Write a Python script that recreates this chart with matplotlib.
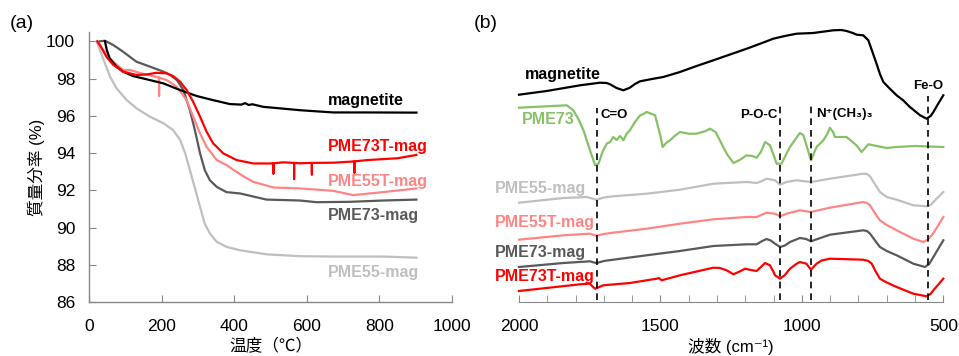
import matplotlib
matplotlib.use("Agg")
import matplotlib.pyplot as plt
import numpy as np

plt.rcParams['font.family'] = ['Liberation Sans', 'Noto Sans CJK JP', 'DejaVu Sans']

# ---------------- (a) TGA data ----------------
tga_magnetite_T = [44, 49, 57, 76, 94, 122, 159, 205, 251, 297, 342, 388, 420, 430, 440, 450, 480, 526, 581, 673,
                   765, 902]
tga_magnetite_m = [100.0, 99.53, 99.08, 98.64, 98.37, 98.13, 97.96, 97.74, 97.38, 97.06, 96.84, 96.63, 96.6, 96.68,
                   96.58, 96.62, 96.48, 96.4, 96.3, 96.18, 96.18, 96.17]

tga_pme73t_T = [23, 30, 48, 67, 94, 131, 159, 186, 214, 232, 251, 269, 287, 306, 324, 342, 370, 407, 453, 498, 508,
                508, 508, 535, 565, 565, 565, 581, 614, 614, 614, 673, 731, 731, 731, 765, 850, 902]
tga_pme73t_m = [100, 99.8, 99.17, 98.73, 98.37, 98.19, 98.22, 98.31, 98.28, 98.13, 97.83, 97.38, 96.75, 95.95, 95.14,
                94.52, 93.98, 93.62, 93.44, 93.44, 93.45, 92.9, 93.45, 93.5, 93.47, 92.6, 93.47, 93.45, 93.47, 92.85,
                93.47, 93.48, 93.55, 92.95, 93.55, 93.62, 93.72, 93.9]

tga_pme55t_T = [23, 39, 67, 94, 113, 140, 177, 193, 193, 193, 214, 242, 269, 287, 306, 324, 352, 379, 398, 425, 453,
                508, 581, 673, 728, 810, 902]
tga_pme55t_m = [100, 99.53, 98.9, 98.46, 98.46, 98.3, 98.13, 98.05, 97.06, 98.05, 97.92, 97.56, 96.84, 95.95, 95.05,
                94.33, 93.62, 93.35, 93.1, 92.75, 92.45, 92.15, 92.1, 91.97, 91.74, 91.9, 92.1]

tga_pme73_T = [30, 44, 67, 94, 131, 168, 205, 223, 242, 260, 278, 292, 306, 319, 333, 352, 379, 416, 489, 581, 627,
               719, 810, 902]
tga_pme73_m = [100.0, 100.03, 99.8, 99.44, 98.9, 98.64, 98.37, 98.2, 97.92, 97.38, 96.3, 95.2, 93.98, 93.08, 92.54,
               92.18, 91.9, 91.83, 91.5, 91.45, 91.36, 91.38, 91.45, 91.5]

tga_pme55_T = [21, 30, 44, 58, 76, 104, 131, 168, 205, 232, 251, 265, 278, 292, 306, 319, 333, 352, 379, 416, 489,
               581, 673, 810, 902]
tga_pme55_m = [99.98, 99.53, 98.82, 98.1, 97.47, 96.84, 96.4, 95.95, 95.6, 95.23, 94.7, 93.98, 93.08, 92.1, 91.1,
               90.2, 89.68, 89.23, 88.96, 88.78, 88.56, 88.46, 88.44, 88.44, 88.38]

# ---------------- (b) FT-IR data (offset, a.u.) ----------------
ir_mag_wn = [2000, 1902, 1784, 1714, 1690, 1678, 1655, 1631, 1608, 1590, 1572, 1530, 1490, 1431, 1372, 1313, 1254,
             1195, 1150, 1101, 1060, 1019, 960, 920, 889, 860, 842, 820, 806, 783, 765, 748, 736, 724, 712, 688, 665,
             642, 618, 582, 559, 545, 535, 518, 500]
ir_mag_v = [207.3, 211, 216.7, 219.3, 219, 217.7, 214, 211.7, 214.3, 218, 220.7, 223, 225, 230, 236, 241.7, 247.5,
            253.3, 258, 263.3, 266, 268.3, 269, 270.5, 271.7, 272, 271, 269, 267.3, 266.7, 261.7, 248, 238.3, 228,
            220, 213, 206.7, 201.7, 195, 186.7, 183.3, 186, 190, 198.3, 206.7]

ir_pme73_wn = [2000, 1902, 1831, 1808, 1790, 1772, 1749, 1731, 1719, 1705, 1690, 1678, 1667, 1655, 1643, 1631, 1620,
               1608, 1590, 1572, 1560, 1549, 1530, 1519, 1502, 1492, 1480, 1466, 1450, 1431, 1400, 1372, 1340, 1325,
               1305, 1290, 1265, 1242, 1220, 1195, 1175, 1160, 1145, 1130, 1113, 1100, 1089, 1072, 1055, 1042, 1020,
               1007, 995, 989, 968, 948, 924, 910, 901, 890, 883, 842, 807, 789, 765, 700, 665, 600, 500]
ir_pme73_v = [194.3, 195.7, 196.7, 191.7, 183, 171.7, 151.7, 136.7, 138.3, 150, 158.3, 160, 165, 162, 166, 161.7, 168,
              171.7, 180, 186.7, 188, 190, 188, 186.7, 168.3, 155, 159, 161.7, 166, 170, 168.3, 168.3, 171, 173.3,
              170, 161.7, 148, 139, 142, 146.7, 146, 144.3, 150, 160, 156.7, 147, 138.3, 138.3, 148, 155, 164, 169,
              167, 161.7, 141.7, 155, 161.7, 168, 174.3, 170, 165, 165, 156.7, 150, 157.7, 154, 155, 156, 155]

ir_pme55_wn = [2000, 1843, 1761, 1735, 1725, 1700, 1667, 1549, 1431, 1313, 1195, 1160, 1140, 1125, 1095, 1077, 1054,
               1019, 968, 901, 783, 770, 759, 740, 724, 700, 665, 606, 559, 545, 535, 500]
ir_pme55_v = [99.3, 104, 105, 103, 102.3, 104.5, 105.7, 108.3, 112.3, 118.3, 120, 119, 121, 123.3, 121.7, 117.3, 120,
              121.7, 120, 123.3, 128.3, 128, 125.7, 117, 110, 105, 102.3, 96.7, 95.7, 97, 100, 110]

ir_pme55t_wn = [2000, 1843, 1749, 1735, 1725, 1700, 1667, 1549, 1431, 1313, 1195, 1160, 1140, 1125, 1095, 1077, 1054,
                1007, 968, 901, 783, 770, 759, 740, 724, 700, 665, 606, 571, 555, 540, 525, 500]
ir_pme55t_v = [62.3, 66.7, 68.3, 67, 66.3, 68, 69.3, 73.3, 78.3, 82.7, 85, 85, 87.5, 89.3, 88.3, 85.7, 88.3, 91.7, 90,
               94.3, 100, 99, 96.7, 88, 81.7, 77, 71.7, 63.3, 60, 62.3, 67, 73.3, 85]

ir_pme73m_wn = [2000, 1843, 1749, 1735, 1725, 1700, 1667, 1549, 1431, 1313, 1195, 1160, 1140, 1125, 1110, 1095, 1077,
                1060, 1042, 1007, 985, 968, 901, 783, 770, 759, 740, 724, 700, 665, 606, 565, 550, 535, 500]
ir_pme73m_v = [35, 39, 40.7, 39.5, 39, 41, 42.3, 46.7, 51, 56, 57.7, 57.7, 61, 63, 61.5, 58.3, 55, 56.5, 60, 64, 63,
               60.7, 67.3, 71.7, 71, 68.3, 61, 55, 51, 46.7, 38.3, 35, 38, 45, 61.7]

ir_pme73t_wn = [2000, 1784, 1749, 1740, 1731, 1702, 1608, 1513, 1505, 1496, 1431, 1313, 1290, 1266, 1242, 1220, 1201,
                1180, 1160, 1145, 1130, 1113, 1100, 1095, 1077, 1060, 1042, 1020, 1007, 984, 968, 948, 930, 901, 783,
                765, 753, 740, 724, 700, 665, 606, 559, 545, 535, 500]
ir_pme73t_v = [11, 17.7, 18.3, 15.5, 13.3, 16.7, 19, 23.3, 24, 21.7, 26.7, 34.3, 34, 31.7, 27.7, 30.5, 33.3, 32, 31,
               35, 39, 36.7, 30, 26.7, 23.3, 27, 33.3, 38, 40, 38.3, 32.3, 38.3, 41.5, 43.3, 42.3, 41, 38.3, 31, 23.3,
               19.5, 15, 8.3, 5.7, 8, 11.7, 23.3]

band_wn = [1725, 1077, 968, 555]
band_labels = ['C=O', 'P-O-C', 'N⁺(CH₃)₃', 'Fe-O']

c_black = '#000000'
c_red = '#FF0000'
c_pink = '#FF8585'
c_dgray = '#595959'
c_lgray = '#BFBFBF'
c_green = '#86C166'

fig = plt.figure(figsize=(9.59, 3.56), dpi=100)
W, H = 959, 356

# ---------------- panel (a) ----------------
axa = fig.add_axes([89 / W, 1 - 302 / H, (452 - 89) / W, (302 - 32) / H])
lw = 1.6
axa.plot(tga_pme55_T, tga_pme55_m, color=c_lgray, lw=lw)
axa.plot(tga_pme73_T, tga_pme73_m, color=c_dgray, lw=lw)
axa.plot(tga_pme55t_T, tga_pme55t_m, color=c_pink, lw=lw)
axa.plot(tga_magnetite_T, tga_magnetite_m, color=c_black, lw=lw)
axa.plot(tga_pme73t_T, tga_pme73t_m, color=c_red, lw=lw)
axa.set_xlim(0, 1000)
axa.set_ylim(86, 100.5)
axa.set_xticks(np.arange(0, 1001, 200))
axa.set_yticks(np.arange(86, 100.1, 2))
for s in ['top', 'right']:
    axa.spines[s].set_visible(False)
for s in ['left', 'bottom']:
    axa.spines[s].set_color('#888888')
    axa.spines[s].set_linewidth(1.0)
axa.tick_params(direction='in', length=5, color='#888888', labelsize=12.5)
axa.tick_params(axis='x', pad=12)
axa.tick_params(axis='y', pad=10)
axa.set_xlabel('温度（℃）', fontsize=12, labelpad=3)
axa.set_ylabel('質量分率 (%)', fontsize=12, labelpad=1)
lab_kw = dict(fontsize=11.5, fontweight='bold', ha='left', va='center')
axa.text(658, 96.84, 'magnetite', color=c_black, **lab_kw)
axa.text(658, 94.37, 'PME73T-mag', color=c_red, **lab_kw)
axa.text(658, 92.49, 'PME55T-mag', color=c_pink, **lab_kw)
axa.text(658, 90.62, 'PME73-mag', color=c_dgray, **lab_kw)
axa.text(658, 87.61, 'PME55-mag', color=c_lgray, **lab_kw)
fig.text(10 / W, 1 - 23 / H, '(a)', fontsize=14, ha='left', va='center')

# ---------------- panel (b) ----------------
axb = fig.add_axes([519 / W, 1 - 302 / H, (943.3 - 519) / W, (302 - 22) / H])
axb.plot(ir_mag_wn, ir_mag_v, color=c_black, lw=lw, clip_on=False)
axb.plot(ir_pme73_wn, ir_pme73_v, color=c_green, lw=lw, clip_on=False)
axb.plot(ir_pme55_wn, ir_pme55_v, color=c_lgray, lw=lw, clip_on=False)
axb.plot(ir_pme55t_wn, ir_pme55t_v, color=c_pink, lw=lw, clip_on=False)
axb.plot(ir_pme73m_wn, ir_pme73m_v, color=c_dgray, lw=lw, clip_on=False)
axb.plot(ir_pme73t_wn, ir_pme73t_v, color=c_red, lw=lw, clip_on=False)
axb.set_xlim(2000, 500)
axb.set_ylim(0, 280)
axb.set_xticks([2000, 1500, 1000, 500])
axb.set_xticks(np.arange(500, 2001, 100), minor=True)
axb.set_yticks([])
for s in ['top', 'right', 'left']:
    axb.spines[s].set_visible(False)
axb.spines['bottom'].set_color('#888888')
axb.tick_params(axis='x', which='both', direction='in', length=5, color='#888888', labelsize=12.5, pad=12)
axb.set_xlabel('波数 (cm⁻¹)', fontsize=12, labelpad=3)

band_top = [194, 200, 200, 206]
for wn, top in zip(band_wn, band_top):
    axb.plot([wn, wn], [2, top], color='black', lw=1.2, ls=(0, (4, 3)), clip_on=False)

bkw = dict(fontsize=9.5, fontweight='bold', va='center')
axb.text(1712, 187, band_labels[0], ha='left', **bkw)
axb.text(1085, 187, band_labels[1], ha='right', **bkw)
axb.text(950, 188, band_labels[2], ha='left', **bkw)
axb.text(555, 216, band_labels[3], ha='center', **bkw)

lab_b = dict(fontsize=11.5, fontweight='bold', ha='left', va='center', clip_on=False)
axb.text(1979, 227, 'magnetite', color=c_black, **lab_b)
axb.text(1990, 182, 'PME73', color=c_green, **lab_b)
axb.text(2085, 114, 'PME55-mag', color=c_lgray, **lab_b)
axb.text(2085, 79, 'PME55T-mag', color=c_pink, **lab_b)
axb.text(2085, 50, 'PME73-mag', color=c_dgray, **lab_b)
axb.text(2085, 26, 'PME73T-mag', color=c_red, **lab_b)
fig.text(474 / W, 1 - 23 / H, '(b)', fontsize=14, ha='left', va='center')

fig.savefig('out.png', dpi=100)
